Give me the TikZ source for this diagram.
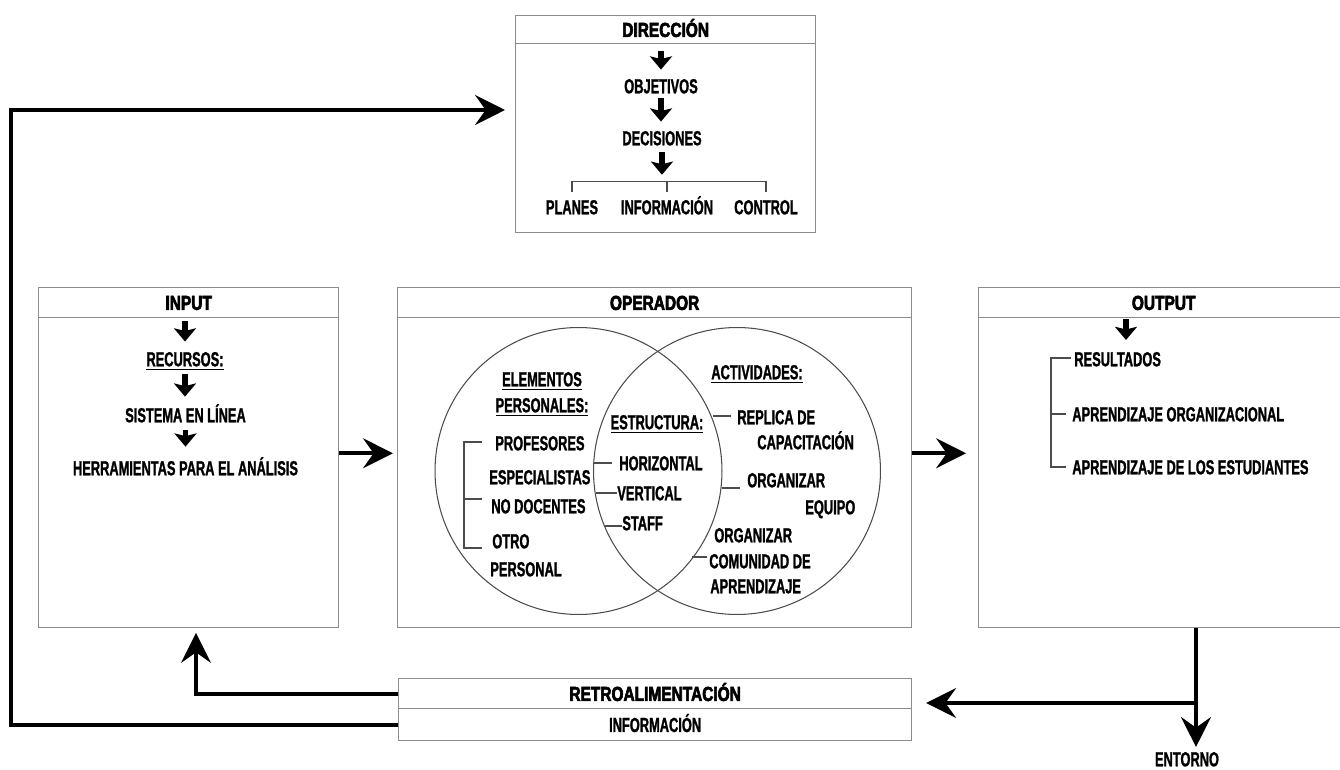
\documentclass[tikz,border=0pt]{standalone}
\usepackage{fontspec}
\usetikzlibrary{arrows.meta,calc}
% Condensed sans faces for body text and headings
\newfontfamily\bodyfont{Liberation Sans}[FakeStretch=0.63,FakeBold=1.2]
\newfontfamily\headfont{Liberation Sans}[FakeStretch=0.765,FakeBold=3]

\tikzset{
  bodyf/.style={font=\bodyfont\bfseries\fontsize{11.6}{13}\selectfont, text height=8.3pt, text depth=0pt},
  body/.style={bodyf, inner sep=0pt},
  frame/.style={draw=black!45, line width=0.8pt, inner sep=0pt, anchor=north west},
  band/.style={frame, font=\headfont\bfseries\fontsize{11.5}{13}\selectfont, text height=8.2pt, text depth=0pt},
  smallarr/.style={line width=3.2pt, -{Stealth[length=7.5pt,width=12.5pt,inset=1.5pt]}},
  bigarr/.style={line width=2.2pt, -{Stealth[length=17pt,width=17pt,inset=6pt]}},
  brk/.style={draw=black!70, line width=0.6pt},
  ring/.style={circle, draw=black!70, line width=0.6pt, minimum size=5.74cm, inner sep=0pt},
}

\begin{document}
\begin{tikzpicture}[x=0.02cm,y=-0.02cm]
\useasboundingbox (0,0) rectangle (1340,770);
\clip (0,0) rectangle (1340,770);

% ---------- DIRECCIÓN ----------
\node[frame, minimum width=6cm, minimum height=4.34cm] (dir) at (515,15) {};
\node[band, minimum width=6cm, minimum height=0.56cm] (dirhead) at (515,15) {DIRECCIÓN};
\node[body] (obj) at (661,86) {OBJETIVOS};
\node[body] (dec) at (662,138) {DECISIONES};
\node[body] (planes) at (572,207) {PLANES};
\node[body] (info) at (667,207) {INFORMACIÓN};
\node[body] (control) at (766,207) {CONTROL};
\draw[smallarr, shorten <=4pt, shorten >=5pt] (dirhead.south -| obj.north) -- (obj.north);
\draw[smallarr, shorten <=2.7pt, shorten >=5pt] (obj.south) -- (obj.south |- dec.north);
\draw[smallarr, shorten <=3.9pt, shorten >=14pt] (dec.south) -- (dec.south |- info.north);
\draw[brk] ([yshift=4pt]planes.north) |- ([yshift=10pt]control.north) -- ([yshift=4pt]control.north);
\draw[brk] ([yshift=4pt]info.north) -- ([yshift=10pt]info.north);

% ---------- INPUT ----------
\node[frame, minimum width=6cm, minimum height=6.8cm] (input) at (38,287) {};
\node[band, minimum width=6cm, minimum height=0.6cm] (inhead) at (38,287) {INPUT};
\node[body] (rec) at (185,359) {\underline{RECURSOS:}};
\node[body] (sis) at (185.5,415) {SISTEMA EN LÍNEA};
\node[body] (her) at (185.5,468) {HERRAMIENTAS PARA EL ANÁLISIS};
\draw[smallarr, shorten <=1.7pt, shorten >=5.6pt] (inhead.south -| rec.north) -- (rec.north);
\draw[smallarr, shorten <=4.4pt, shorten >=6.1pt] (rec.south) -- (rec.south |- sis.north);
\draw[smallarr, shorten <=4.4pt, shorten >=7.8pt] (sis.south) -- (sis.south |- her.north);

% ---------- OPERADOR ----------
\node[frame, minimum width=10.28cm, minimum height=6.8cm] (oper) at (397,287) {};
\node[band, minimum width=10.28cm, minimum height=0.6cm] (operhead) at (397,287) {OPERADOR};
\node[ring] (cleft) at (578.5,471) {};
\node[ring] (cright) at (737,471) {};

% personal elements
\node[body] (elem) at (542,379) {\underline{ELEMENTOS}};
\node[body] (pers) at (542,405) {\underline{PERSONALES:}};
\node[body, anchor=west] (prof) at (495,443) {PROFESORES};
\node[body, anchor=west] (espec) at (489,477) {ESPECIALISTAS};
\node[body, anchor=west] (nodoc) at (491,506) {NO DOCENTES};
\node[body, anchor=west] (otro) at (492,541) {OTRO};
\node[body, anchor=west] (perso) at (490,569) {PERSONAL};
\draw[brk] (482,442) -- (464,442) -- (464,548) -- (482,548);
\draw[brk] (464,499) -- (482,499);

% structure
\node[body] (estr) at (657,422) {\underline{ESTRUCTURA:}};
\node[body, anchor=west] (horiz) at (619,463) {HORIZONTAL};
\node[body, anchor=west] (vert) at (617,493) {VERTICAL};
\node[body, anchor=west] (staff) at (622,523) {STAFF};
\draw[brk] (594,463) -- (612,463);
\draw[brk] (596,493) -- (617,493);
\draw[brk] (605,526) -- (622,526);

% activities
\node[body] (activ) at (757,372) {\underline{ACTIVIDADES:}};
\node[body, anchor=west] (repl) at (737,417) {REPLICA DE};
\node[body, anchor=west] (capac) at (757,442) {CAPACITACIÓN};
\node[body, anchor=west] (orga) at (747,480) {ORGANIZAR};
\node[body, anchor=west] (equipo) at (805,507) {EQUIPO};
\node[body, anchor=west] (orgb) at (714,535) {ORGANIZAR};
\node[body, anchor=west] (comun) at (709,561) {COMUNIDAD DE};
\node[body, anchor=west] (aprend) at (710,586) {APRENDIZAJE};
\draw[brk] (713,416) -- (731,416);
\draw[brk] (722,488) -- (740,488);
\draw[brk] (692,557) -- (707,557);

% ---------- OUTPUT ----------
\node[frame, minimum width=7.4cm, minimum height=6.8cm] (output) at (978,287) {};
\node[band, minimum width=7.4cm, minimum height=0.6cm] (outhead) at (978,287) {OUTPUT};
\node[body, anchor=west] (resul) at (1074,359) {RESULTADOS};
\node[body, anchor=west] (aporg) at (1072,414) {APRENDIZAJE ORGANIZACIONAL};
\node[body, anchor=west] (apest) at (1072,467) {APRENDIZAJE DE LOS ESTUDIANTES};
\draw[brk] (1071,358) -- (1051,358) -- (1051,467) -- (1066,467);
\draw[brk] (1051,414) -- (1066,414);
\coordinate (outarr) at (1126,340);
\draw[smallarr, shorten <=0.6pt] (outhead.south -| outarr) -- (outarr);

% ---------- RETROALIMENTACIÓN ----------
\node[band, minimum width=10.26cm, minimum height=0.6cm] (retrohead) at (398,678) {RETROALIMENTACIÓN};
\node[frame, bodyf, minimum width=10.26cm, minimum height=0.64cm] (retroinfo) at (398,708) {INFORMACIÓN};

% ---------- flow connectors ----------
\draw[bigarr, shorten >=2.3pt] ([yshift=2.5pt]input.east) -- ([yshift=2.5pt]oper.west);
\draw[bigarr, shorten >=6.8pt] ([yshift=2.5pt]oper.east) -- ([yshift=2.5pt]output.west);

\coordinate (split) at (1196,703);
\node[body] (entorno) at (1187,759) {ENTORNO};
\draw[bigarr, shorten >=2.5pt] (split |- output.south) -- (split |- entorno.north);
\draw[bigarr, shorten >=7.9pt] (split) -- (split -| retrohead.east);

\coordinate (inlet) at (196,627);
\draw[bigarr, shorten >=3.4pt] (retrohead.west) -| (inlet);

\coordinate (loop) at (11,110);
\draw[bigarr, shorten >=5.7pt] (retroinfo.west) -| (loop) -- (loop -| dir.west);
\end{tikzpicture}
\end{document}
